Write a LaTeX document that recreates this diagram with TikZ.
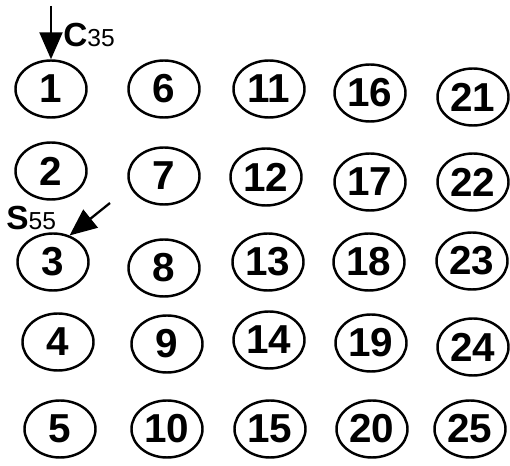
\documentclass[tikz,border=0pt]{standalone}
\usepackage{fontspec}
\setmainfont{Liberation Sans}
\usetikzlibrary{arrows.meta,shapes.geometric}
\tikzset{
    cellnode/.style={draw, ellipse, line width=1.4pt, inner sep=0pt, minimum width=1.42cm, minimum height=1.14cm, font=\bfseries\fontsize{23}{27}\selectfont},
    markarrow/.style={-{Triangle[length=5.4mm, width=4.6mm]}, line width=1.3pt},
    marklabel/.style={anchor=base west, inner sep=0pt}
}
\newcommand{\marktext}[2]{{\bfseries\fontsize{19}{22}\selectfont #1}{\fontsize{14}{16}\selectfont #2}}

\begin{document}
\begin{tikzpicture}[x=0.2mm, y=-0.2mm]
            \useasboundingbox (0,0) rectangle (510,466);

            % first column
            \node[cellnode] (n1) at (51,89) {1};
            \node[cellnode] (n2) at (51,171) {2};
            \node[cellnode] (n3) at (53,262) {3};
            \node[cellnode] (n4) at (58,342) {4};
            \node[cellnode] (n5) at (60,429) {5};
            % second column
            \node[cellnode] (n6) at (164,89) {6};
            \node[cellnode] (n7) at (164,176) {7};
            \node[cellnode] (n8) at (164,268) {8};
            \node[cellnode] (n9) at (167,344) {9};
            \node[cellnode] (n10) at (167,429) {10};
            % third column
            \node[cellnode] (n11) at (269,89) {11};
            \node[cellnode] (n12) at (266,177) {12};
            \node[cellnode] (n13) at (268,262) {13};
            \node[cellnode] (n14) at (269,340) {14};
            \node[cellnode] (n15) at (270,429) {15};
            % fourth column
            \node[cellnode] (n16) at (370,93) {16};
            \node[cellnode] (n17) at (370,182) {17};
            \node[cellnode] (n18) at (369,262) {18};
            \node[cellnode] (n19) at (371,343) {19};
            \node[cellnode] (n20) at (372,429) {20};
            % fifth column
            \node[cellnode] (n21) at (473,97) {21};
            \node[cellnode] (n22) at (473,182) {22};
            \node[cellnode] (n23) at (472,261) {23};
            \node[cellnode] (n24) at (473,347) {24};
            \node[cellnode] (n25) at (470,429) {25};

            % the two markers
            \coordinate (ctail) at (51,6);
            \coordinate (stail) at (110,203);
            \draw[markarrow] (ctail) -- (n1.north);
            \draw[markarrow] (stail) -- (n3.58);
            \node[marklabel] (clabel) at (63,47) {\marktext{C}{35}};
            \node[marklabel] (slabel) at (6,230) {\marktext{S}{55}};
        \end{tikzpicture}
\end{document}
